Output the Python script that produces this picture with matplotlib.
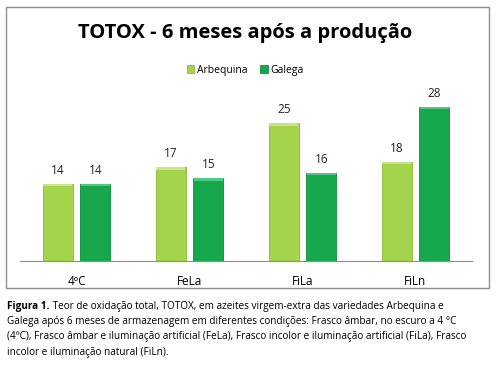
import numpy as np
import matplotlib.pyplot as plt
from matplotlib.patches import Rectangle

categories = ["4ºC", "FeLa", "FiLa", "FiLn"]
arbequina = [14, 17, 25, 18]
galega = [14, 15, 16, 28]
series_names = ["Arbequina", "Galega"]

caption_bold = "Figura 1."
caption_first = " Teor de oxidação total, TOTOX, em azeites virgem-extra das variedades Arbequina e"
caption_rest = ("Galega após 6 meses de armazenagem em diferentes condições: Frasco âmbar, no escuro a 4 °C\n"
                "(4ºC), Frasco âmbar e iluminação artificial (FeLa), Frasco incolor e iluminação artificial (FiLa), Frasco\n"
                "incolor e iluminação natural (FiLn).")

plt.rcParams['font.family'] = ['Open Sans', 'DejaVu Sans']

fig = plt.figure(figsize=(5.01, 3.69), dpi=100)

# outer chart frame
fig.patches.append(Rectangle((0.012, 0.2195), 0.964, 0.7615, transform=fig.transFigure,
                             fill=False, edgecolor="#8c8c8c", linewidth=1.0))

ax = fig.add_axes([0.04, 0.293, 0.902, 0.447])
x = np.arange(len(categories))
w = 0.265
off = 0.166
light = "#a4d44c"
dark = "#17a84e"
b1 = ax.bar(x - off, arbequina, w, color=light, edgecolor="#8db83a", linewidth=0.6, label=series_names[0])
b2 = ax.bar(x + off, galega, w, color=dark, edgecolor="#12883f", linewidth=0.6, label=series_names[1])
# lighter top caps for a bevel look
ax.bar(x - off, 0.45, w * 0.96, bottom=np.array(arbequina) - 0.45, color="#c8e87a", linewidth=0)
ax.bar(x + off, 0.45, w * 0.96, bottom=np.array(galega) - 0.45, color="#45d07f", linewidth=0)

for bars, vals in ((b1, arbequina), (b2, galega)):
    for r, v in zip(bars, vals):
        ax.text(r.get_x() + r.get_width() / 2, v + 1.3, str(v), ha="center", va="bottom",
                fontsize=8.5, color="#222222")

ax.set_xlim(-0.5, 3.5)
ax.set_ylim(0, 30)
ax.set_xticks(x)
ax.set_xticklabels(categories, fontsize=8.5)
ax.tick_params(axis="x", length=0, pad=10)
ax.set_yticks([])
for s in ("left", "right", "top"):
    ax.spines[s].set_visible(False)
ax.spines["bottom"].set_color("#8c8c8c")

fig.text(0.49, 0.91, "TOTOX - 6 meses após a produção", ha="center", va="center",
         fontsize=14.5, fontweight="bold")
fig.legend(handles=[b1, b2], loc="center", bbox_to_anchor=(0.49, 0.81), ncol=2, frameon=False,
           fontsize=7.5, handlelength=0.7, handleheight=0.7, handletextpad=0.3, columnspacing=1.2)

# caption: bold lead followed by normal text
fs = 7.2
t_bold = fig.text(0.014, 0.185, caption_bold, ha="left", va="top", fontsize=fs, fontweight="bold")
fig.canvas.draw()
bb = t_bold.get_window_extent().transformed(fig.transFigure.inverted())
fig.text(bb.x1, 0.185, caption_first, ha="left", va="top", fontsize=fs)
fig.text(0.014, 0.185 - 0.0405, caption_rest, ha="left", va="top", fontsize=fs, linespacing=1.6)

fig.savefig("out.png", dpi=100)
